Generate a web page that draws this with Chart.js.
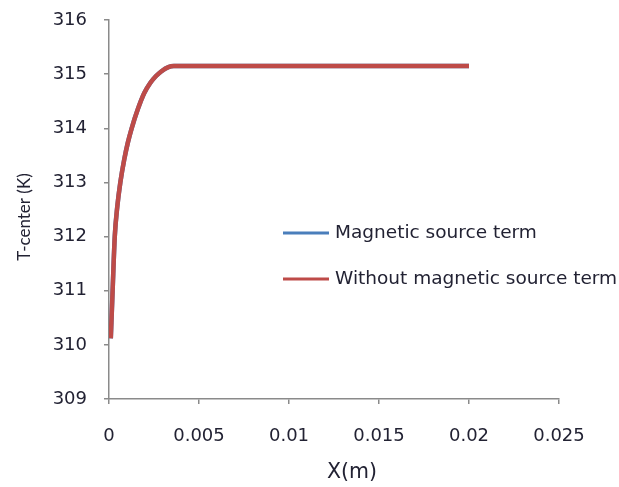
<!DOCTYPE html>
<html>
<head>
<meta charset="utf-8">
<script src="https://cdn.jsdelivr.net/npm/chart.js@4/dist/chart.umd.min.js"></script>
<style>
  html, body { margin: 0; padding: 0; background: #fff; }
  #wrap { width: 619px; height: 487px; }
</style>
</head>
<body>
<div id="wrap"><canvas id="c" width="619" height="487"></canvas></div>
<script>
// Centre-line temperature along the channel, with and without the magnetic source term
const xPositions = [0.0001, 0.0002, 0.00032, 0.00046, 0.00063, 0.00085, 0.00105, 0.00126, 0.0016, 0.00196, 0.0023, 0.0026, 0.0029, 0.0033, 0.0036, 0.005, 0.01, 0.015, 0.02];
const magneticT = [310.12, 311.0, 312.0, 312.55, 313.0, 313.43, 313.74, 314.0, 314.35, 314.65, 314.84, 314.96, 315.05, 315.13, 315.15, 315.15, 315.15, 315.15, 315.15];
const withoutMagneticT = [310.12, 311.0, 312.0, 312.55, 313.0, 313.43, 313.74, 314.0, 314.35, 314.65, 314.84, 314.96, 315.05, 315.13, 315.15, 315.15, 315.15, 315.15, 315.15];
const seriesNames = ['Magnetic source term', 'Without magnetic source term'];

const xTickValues = [0, 0.005, 0.01, 0.015, 0.02, 0.025];
const xTickLabels = ['0', '0.005', '0.01', '0.015', '0.02', '0.025'];
const yTickValues = [309, 310, 311, 312, 313, 314, 315, 316];
const yTickLabels = ['309', '310', '311', '312', '313', '314', '315', '316'];
const xTitle = 'X(m)';
const yTitle = 'T-center (K)';

const FONT = '"DejaVu Sans", sans-serif';
const TEXT = '#222233';
const AXIS = '#8a8a8a';

const toPoints = ys => xPositions.map((x, i) => ({ x, y: ys[i] }));

// Axis titles and an in-plot legend
const overlay = {
  id: 'overlay',
  afterDraw(chart) {
    const ctx = chart.ctx, a = chart.chartArea;
    ctx.save();
    ctx.fillStyle = TEXT;
    ctx.textAlign = 'center';
    ctx.textBaseline = 'middle';
    ctx.font = '20.5px ' + FONT;
    ctx.fillText(xTitle, a.left + (a.right - a.left) * 0.54, a.bottom + 74);
    ctx.save();
    ctx.font = '17px Lato, sans-serif';
    ctx.translate(25, a.top + (a.bottom - a.top) * 0.52);
    ctx.rotate(-Math.PI / 2);
    ctx.fillText(yTitle, 0, 0);
    ctx.restore();

    ctx.textAlign = 'left';
    ctx.font = '18.5px ' + FONT;
    const lx = 283, ly = 233;
    chart.data.datasets.forEach((ds, i) => {
      const y = ly + i * 46;
      ctx.strokeStyle = ds.borderColor;
      ctx.lineWidth = 3;
      ctx.beginPath();
      ctx.moveTo(lx, y);
      ctx.lineTo(lx + 46, y);
      ctx.stroke();
      ctx.fillText(ds.label, lx + 52, y);
    });
    ctx.restore();
  }
};

new Chart(document.getElementById('c'), {
  type: 'line',
  data: {
    datasets: [
      { label: seriesNames[0], data: toPoints(magneticT), borderColor: '#4a7ebb', order: 1 },
      { label: seriesNames[1], data: toPoints(withoutMagneticT), borderColor: '#be4b48', order: 0 }
    ]
  },
  options: {
    responsive: false,
    animation: false,
    layout: { padding: { left: 0, right: 60, top: 20, bottom: 0 } },
    elements: {
      line: { borderWidth: 4.5, borderCapStyle: 'butt', cubicInterpolationMode: 'monotone', fill: false },
      point: { radius: 0 }
    },
    plugins: { legend: { display: false }, tooltip: { enabled: false } },
    scales: {
      x: {
        type: 'linear',
        min: 0, max: 0.025,
        afterBuildTicks: s => { s.ticks = xTickValues.map(v => ({ value: v })); },
        afterFit: s => { s.height = 88; s.paddingLeft = 0; s.paddingRight = 0; },
        grid: { drawOnChartArea: false, color: AXIS, lineWidth: 1.5, tickLength: 5 },
        border: { color: AXIS, width: 1.5 },
        ticks: {
          padding: 22, color: TEXT, font: { family: FONT, size: 18 }, maxRotation: 0,
          callback: (v, i) => xTickLabels[i]
        }
      },
      y: {
        min: 309, max: 316,
        afterBuildTicks: s => { s.ticks = yTickValues.map(v => ({ value: v })); },
        afterFit: s => { s.width = 109; s.paddingTop = 0; s.paddingBottom = 0; },
        grid: { drawOnChartArea: false, color: AXIS, lineWidth: 1.5, tickLength: 5 },
        border: { color: AXIS, width: 1.5 },
        ticks: {
          padding: 17, color: TEXT, font: { family: FONT, size: 18 },
          callback: (v, i) => yTickLabels[i]
        }
      }
    }
  },
  plugins: [overlay]
});
</script>
</body>
</html>
